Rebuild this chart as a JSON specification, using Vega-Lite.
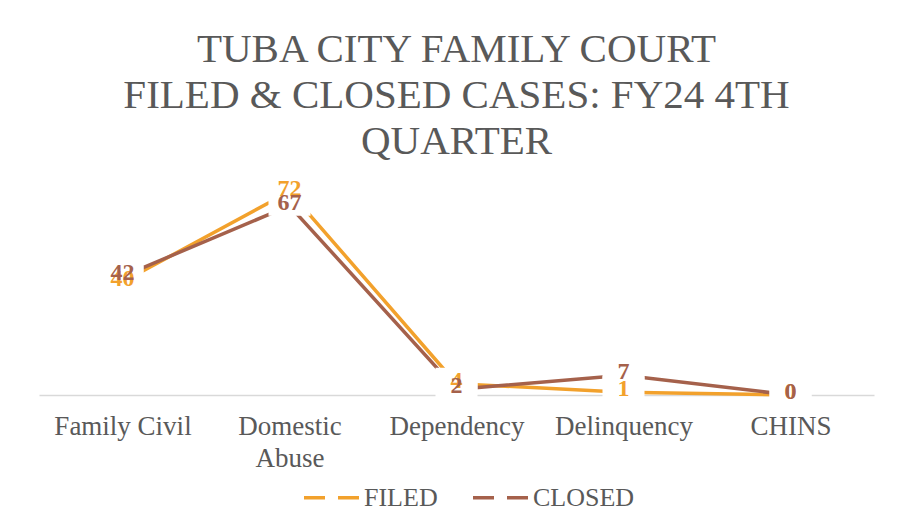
{
  "$schema": "https://vega.github.io/schema/vega-lite/v6.json",
  "width": 835,
  "height": 226,
  "autosize": "none",
  "padding": {"left": 39, "top": 169, "right": 33, "bottom": 136},
  "background": "white",
  "config": {"view": {"stroke": null}},
  "title": {
    "text": ["TUBA CITY FAMILY COURT", "FILED & CLOSED CASES: FY24 4TH", "QUARTER"],
    "font": "Liberation Serif",
    "fontSize": 41,
    "fontWeight": "normal",
    "color": "#595959",
    "anchor": "middle",
    "lineHeight": 46,
    "offset": 6
  },
  "data": {
    "values": [
      {"category": "Family Civil", "series": "FILED", "value": 40},
      {"category": "Domestic Abuse", "series": "FILED", "value": 72},
      {"category": "Dependency", "series": "FILED", "value": 4},
      {"category": "Delinquency", "series": "FILED", "value": 1},
      {"category": "CHINS", "series": "FILED", "value": 0},
      {"category": "Family Civil", "series": "CLOSED", "value": 42},
      {"category": "Domestic Abuse", "series": "CLOSED", "value": 67},
      {"category": "Dependency", "series": "CLOSED", "value": 2},
      {"category": "Delinquency", "series": "CLOSED", "value": 7},
      {"category": "CHINS", "series": "CLOSED", "value": 0}
    ]
  },
  "encoding": {
    "x": {
      "field": "category",
      "type": "nominal",
      "sort": ["Family Civil", "Domestic Abuse", "Dependency", "Delinquency", "CHINS"],
      "axis": {
        "title": null,
        "labelAngle": 0,
        "labelFont": "Liberation Serif",
        "labelFontSize": 27,
        "labelColor": "#595959",
        "labelPadding": 31,
        "labelLineHeight": 32,
        "labelBaseline": "middle",
        "labelExpr": "datum.label == 'Domestic Abuse' ? ['Domestic', 'Abuse'] : datum.label",
        "ticks": false,
        "domainColor": "#d9d9d9",
        "domainWidth": 1.5,
        "grid": false
      }
    },
    "y": {
      "field": "value",
      "type": "quantitative",
      "scale": {"domain": [0, 80]},
      "axis": null
    }
  },
  "layer": [
    {
      "mark": {"type": "line", "strokeWidth": 3.5},
      "encoding": {
        "color": {
          "field": "series",
          "type": "nominal",
          "scale": {"domain": ["FILED", "CLOSED"], "range": ["#F2A12C", "#A5614B"]},
          "legend": {
            "title": null,
            "orient": "none",
            "legendX": 263,
            "legendY": 299,
            "direction": "horizontal",
            "symbolType": "stroke",
            "symbolStrokeWidth": 3.5,
            "symbolDash": [21, 13],
            "symbolSize": 3025,
            "labelFont": "Liberation Serif",
            "labelFontSize": 26,
            "labelColor": "#595959",
            "labelOffset": 3,
            "columnPadding": 28
          }
        }
      }
    },
    {
      "mark": {
        "type": "point",
        "shape": "M-1,-0.62H1V0.62H-1Z",
        "size": 1764,
        "filled": true,
        "fill": "white",
        "opacity": 1,
        "strokeWidth": 0
      },
      "encoding": {"yOffset": {"value": -3}}
    },
    {
      "mark": {
        "type": "text",
        "font": "Liberation Serif",
        "fontSize": 24,
        "fontWeight": "bold",
        "baseline": "middle",
        "dy": -3
      },
      "encoding": {
        "text": {"field": "value", "type": "quantitative"},
        "color": {"field": "series", "type": "nominal", "legend": null}
      }
    }
  ]
}
